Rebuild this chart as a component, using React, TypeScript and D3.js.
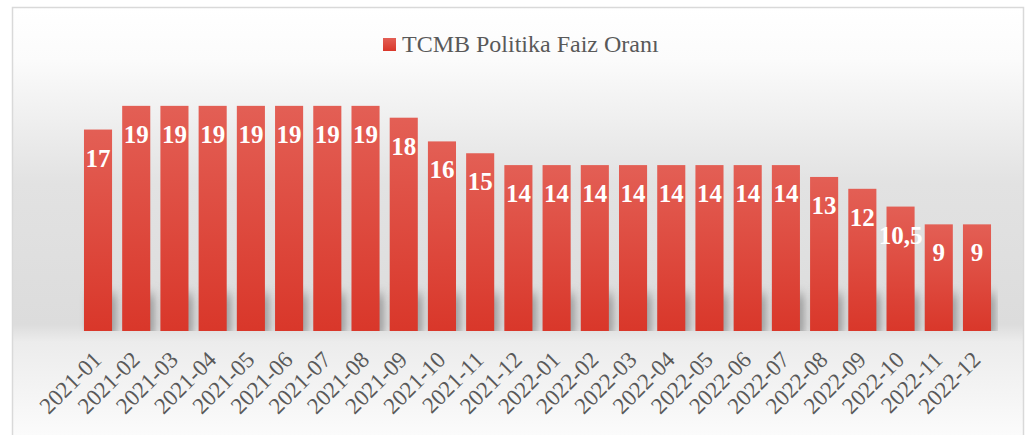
import React, { useEffect, useRef } from "react";
import * as d3 from "d3";

const months = [
  "2021-01", "2021-02", "2021-03", "2021-04", "2021-05", "2021-06",
  "2021-07", "2021-08", "2021-09", "2021-10", "2021-11", "2021-12",
  "2022-01", "2022-02", "2022-03", "2022-04", "2022-05", "2022-06",
  "2022-07", "2022-08", "2022-09", "2022-10", "2022-11", "2022-12",
];
const rates = [17, 19, 19, 19, 19, 19, 19, 19, 18, 16, 15, 14, 14, 14, 14, 14, 14, 14, 14, 13, 12, 10.5, 9, 9];
const seriesName = "TCMB Politika Faiz Oranı";

const W = 1029;
const H = 435;

export default function App() {
  const el = useRef<SVGSVGElement | null>(null);

  useEffect(() => {
    const svg = d3.select(el.current);
    svg.selectAll("*").remove();

    const defs = svg.append("defs");
    const bg = defs.append("linearGradient").attr("id", "bg")
      .attr("x1", 0).attr("y1", 0).attr("x2", 0).attr("y2", 1);
    bg.append("stop").attr("offset", "0%").attr("stop-color", "#ffffff");
    bg.append("stop").attr("offset", "12%").attr("stop-color", "#fbfbfb");
    bg.append("stop").attr("offset", "40%").attr("stop-color", "#e2e2e2");
    bg.append("stop").attr("offset", "72%").attr("stop-color", "#dcdcdc");
    bg.append("stop").attr("offset", "76%").attr("stop-color", "#ececec");
    bg.append("stop").attr("offset", "100%").attr("stop-color", "#fdfdfd");

    const barGrad = defs.append("linearGradient").attr("id", "bar")
      .attr("x1", 0).attr("y1", 0).attr("x2", 0).attr("y2", 1);
    barGrad.append("stop").attr("offset", "0%").attr("stop-color", "#e35f55");
    barGrad.append("stop").attr("offset", "100%").attr("stop-color", "#d9372a");

    defs.append("filter").attr("id", "blur")
      .attr("x", "-50%").attr("y", "-50%").attr("width", "200%").attr("height", "200%")
      .append("feGaussianBlur").attr("stdDeviation", "3 6");
    defs.append("clipPath").attr("id", "above")
      .append("rect").attr("x", 0).attr("y", 0).attr("width", 998).attr("height", 331);

    // frame
    svg.append("rect").attr("width", W).attr("height", H).attr("fill", "#ffffff");
    svg.append("rect")
      .attr("x", 12.5).attr("y", 7.5).attr("width", 1011).attr("height", 440)
      .attr("fill", "url(#bg)").attr("stroke", "#d9d9d9").attr("stroke-width", 1.5);

    const x = d3.scaleBand<string>().domain(months).range([79, 996]).paddingInner(0.265).paddingOuter(0.13);
    const y = d3.scaleLinear().domain([0, 20]).range([331, 94]);

    // soft shadow behind each bar
    svg.append("g").attr("clip-path", "url(#above)")
      .selectAll("rect").data(rates).join("rect")
      .attr("x", (_d, i) => (x(months[i]) as number) + 3)
      .attr("y", 294)
      .attr("width", x.bandwidth() + 2)
      .attr("height", 44)
      .attr("fill", "#9a9a9a")
      .attr("fill-opacity", 0.85)
      .attr("filter", "url(#blur)");

    svg.append("g").selectAll("rect").data(rates).join("rect")
      .attr("x", (_d, i) => x(months[i]) as number)
      .attr("y", (d) => y(d))
      .attr("width", x.bandwidth())
      .attr("height", (d) => y(0) - y(d))
      .attr("fill", "url(#bar)");

    const fmt = (v: number) => String(v).replace(".", ",");
    svg.append("g").selectAll("text").data(rates).join("text")
      .attr("x", (_d, i) => (x(months[i]) as number) + x.bandwidth() / 2)
      .attr("y", (d) => y(d) + 37)
      .attr("text-anchor", "middle")
      .attr("font-family", "'Liberation Serif', 'Times New Roman', serif")
      .attr("font-weight", "bold")
      .attr("font-size", 25)
      .attr("fill", "#ffffff")
      .text(fmt);

    // x axis labels
    svg.append("g").selectAll("text").data(months).join("text")
      .attr("transform", (d) => `translate(${(x(d) as number) + x.bandwidth() / 2 + 5},361) rotate(-45)`)
      .attr("text-anchor", "end")
      .attr("font-family", "'Liberation Serif', 'Times New Roman', serif")
      .attr("font-size", 23)
      .attr("fill", "#595959")
      .text((d) => d);

    // legend
    const lg = svg.append("g");
    lg.append("rect").attr("x", 383).attr("y", 38).attr("width", 13).attr("height", 13).attr("fill", "url(#bar)");
    lg.append("text")
      .attr("x", 402).attr("y", 52)
      .attr("font-family", "'Liberation Serif', 'Times New Roman', serif")
      .attr("font-size", 24)
      .attr("fill", "#595959")
      .text(seriesName);
  }, []);

  return (
    <div style={{ position: "absolute", left: 0, top: 0 }}>
      <svg ref={el} width={W} height={H} style={{ display: "block" }} />
    </div>
  );
}
